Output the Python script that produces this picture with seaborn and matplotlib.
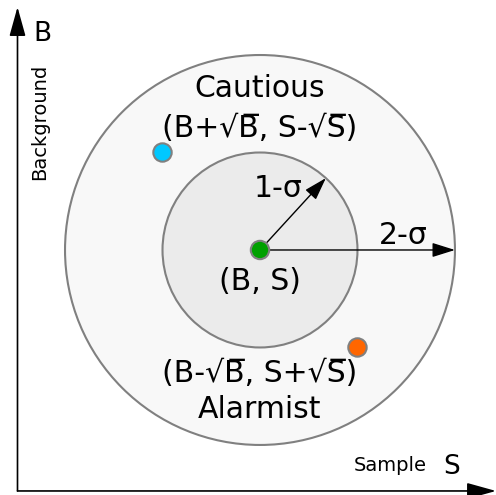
import matplotlib

matplotlib.use("Agg")
import matplotlib.pyplot as plt
import numpy as np
import pandas as pd
import seaborn as sns
from matplotlib.patches import Circle

# offsets from the measured point (B, S), in units of one sigma
sample_offset = [0, -1, 1]
background_offset = [0, 1, -1]
point_names = ["measured", "cautious", "alarmist"]
point_colors = ["#00a000", "#00c8ff", "#ff6600"]

sigma_levels = [1, 2]
sigma_labels = ["1-σ", "2-σ"]
sigma_fills = ["#ebebeb", "#f8f8f8"]

cautious_label = ["Cautious", "(B+√B\u0305, S-√S\u0305)"]
alarmist_label = ["(B-√B\u0305, S+√S\u0305)", "Alarmist"]
center_label = "(B, S)"

sns.set_theme(style="white")
plt.rcParams["font.family"] = ["DejaVu Sans"]
plt.rcParams["text.color"] = "black"

fig = plt.figure(figsize=(4.96, 4.95), dpi=100)
ax = fig.add_axes([0, 0, 1, 1])
ax.set_xlim(-2.667, 2.421)
ax.set_ylim(-2.513, 2.564)
ax.set_aspect("equal")
ax.axis("off")

# sigma circles, biggest first
for r, fill in sorted(zip(sigma_levels, sigma_fills), reverse=True):
    ax.add_patch(Circle((0, 0), r, facecolor=fill, edgecolor="#808080", lw=1.5, zorder=1))

# radius arrows
angles = [47.5, 0]
for r, ang, lab in zip(sigma_levels, angles, sigma_labels):
    a = np.deg2rad(ang)
    ax.annotate("", xy=(r * np.cos(a), r * np.sin(a)), xytext=(0, 0),
                arrowprops=dict(arrowstyle="-|>,head_length=0.7,head_width=0.22",
                                mutation_scale=20, color="black", lw=1.0,
                                shrinkA=0, shrinkB=0), zorder=3)
fs = 21.5
ax.text(0.19, 0.63, sigma_labels[0], fontsize=fs, ha="center", va="center", zorder=4)
ax.text(1.47, 0.15, sigma_labels[1], fontsize=fs, ha="center", va="center", zorder=4)

df = pd.DataFrame({"S": sample_offset, "B": background_offset, "name": point_names})
sns.scatterplot(data=df, x="S", y="B", hue="name", palette=point_colors, s=175,
                edgecolor="#808080", linewidth=1.5, legend=False, ax=ax, zorder=5)

ax.text(0, 1.66, cautious_label[0], fontsize=fs, ha="center", va="center")
ax.text(0, 1.25, cautious_label[1], fontsize=fs, ha="center", va="center")
ax.text(0, -0.32, center_label, fontsize=fs, ha="center", va="center")
ax.text(0, -1.27, alarmist_label[0], fontsize=fs, ha="center", va="center")
ax.text(0, -1.64, alarmist_label[1], fontsize=fs, ha="center", va="center")

# the two axes of the diagram
origin = (17.5 / 496, 1 - 491 / 495)
for tip in [(origin[0], 1 - 7 / 495), (1.0, origin[1])]:
    ax.annotate("", xy=tip, xytext=origin, xycoords="axes fraction",
                textcoords="axes fraction",
                arrowprops=dict(arrowstyle="-|>,head_length=0.9,head_width=0.25",
                                mutation_scale=20, color="black", lw=1.2,
                                shrinkA=0, shrinkB=0))

ax.text(42 / 496, 1 - 34 / 495, "B", fontsize=19, ha="center", va="center",
        transform=ax.transAxes)
ax.text(40 / 496, 1 - 122 / 495, "Background", fontsize=14, rotation=90,
        ha="center", va="center", transform=ax.transAxes)
ax.text(390 / 496, 1 - 466 / 495, "Sample", fontsize=14, ha="center", va="center",
        transform=ax.transAxes)
ax.text(452 / 496, 1 - 467 / 495, "S", fontsize=19, ha="center", va="center",
        transform=ax.transAxes)

plt.savefig("out.png", dpi=100, facecolor="white")
plt.close()
